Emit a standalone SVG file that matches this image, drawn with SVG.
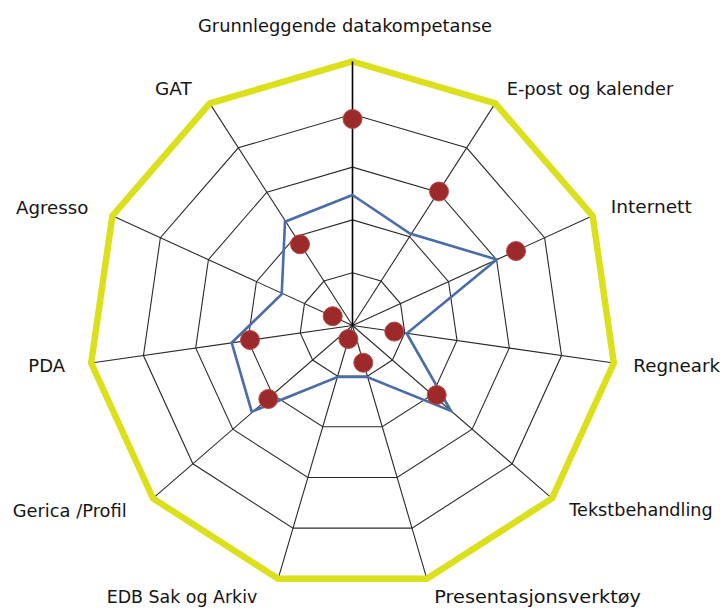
<svg xmlns="http://www.w3.org/2000/svg" width="726" height="610" viewBox="0 0 726 610">
<style>
  .lbl { font-family: "DejaVu Sans", "Liberation Sans", sans-serif; font-size: 17.5px; fill: #141414; }
  .ring { fill: none; stroke: #2a2a2a; stroke-width: 1.1; }
  .spoke { stroke: #2a2a2a; stroke-width: 1.1; }
  .outer { fill: none; stroke: #dce01c; stroke-width: 6.5; stroke-linejoin: miter; }
  .series { fill: none; stroke: #4a6ca8; stroke-width: 2.6; stroke-linejoin: miter; }
  .dot { fill: #9c2a2a; stroke: #b84a4a; stroke-width: 1; }
</style>
<rect width="726" height="610" fill="#ffffff"/>
<g id="grid" transform="translate(352.5 325.5)">
  <polygon class="ring" points="0,-52.8 28.55,-44.42 48.03,-21.93 52.26,7.51 39.9,34.58 14.88,50.66 -14.88,50.66 -39.9,34.58 -52.26,7.51 -48.03,-21.93 -28.55,-44.42"/>
  <polygon class="ring" points="0,-105.6 57.09,-88.84 96.06,-43.87 104.52,15.03 79.81,69.15 29.75,101.32 -29.75,101.32 -79.81,69.15 -104.52,15.03 -96.06,-43.87 -57.09,-88.84"/>
  <polygon class="ring" points="0,-158.4 85.64,-133.25 144.08,-65.8 156.79,22.54 119.71,103.73 44.63,151.99 -44.63,151.99 -119.71,103.73 -156.79,22.54 -144.08,-65.8 -85.64,-133.25"/>
  <polygon class="ring" points="0,-211.2 114.18,-177.67 192.11,-87.74 209.05,30.06 159.62,138.3 59.5,202.65 -59.5,202.65 -159.62,138.3 -209.05,30.06 -192.11,-87.74 -114.18,-177.67"/>
  <line class="spoke" x1="0" y1="0" x2="142.73" y2="-222.09"/>
  <line class="spoke" x1="0" y1="0" x2="240.14" y2="-109.67"/>
  <line class="spoke" x1="0" y1="0" x2="261.31" y2="37.57"/>
  <line class="spoke" x1="0" y1="0" x2="199.52" y2="172.88"/>
  <line class="spoke" x1="0" y1="0" x2="74.38" y2="253.31"/>
  <line class="spoke" x1="0" y1="0" x2="-74.38" y2="253.31"/>
  <line class="spoke" x1="0" y1="0" x2="-199.52" y2="172.88"/>
  <line class="spoke" x1="0" y1="0" x2="-261.31" y2="37.57"/>
  <line class="spoke" x1="0" y1="0" x2="-240.14" y2="-109.67"/>
  <line class="spoke" x1="0" y1="0" x2="-142.73" y2="-222.09"/>
  <polygon class="outer" points="0,-264 142.73,-222.09 240.14,-109.67 261.31,37.57 199.52,172.88 74.38,253.31 -74.38,253.31 -199.52,172.88 -261.31,37.57 -240.14,-109.67 -142.73,-222.09"/>
  <line x1="0" y1="0" x2="0" y2="-264" stroke="#000000" stroke-width="1.6"/>
</g>
<g id="connectors" transform="translate(352.5 325.5)">
  <polygon class="series" points="0,-130.5 57.5,-92 144.2,-66 54.2,8 98.5,85.5 14.8,51.5 -15,51.5 -100.8,86.2 -120.8,17.2 -70.8,-31.2 -67.5,-103.8"/>
</g>
<g id="points" transform="translate(352.5 325.5)">
  <circle class="dot" cx="0" cy="-206.5" r="9.5"/>
  <circle class="dot" cx="86.5" cy="-134" r="9.5"/>
  <circle class="dot" cx="163.5" cy="-74.5" r="9.5"/>
  <circle class="dot" cx="41.8" cy="6.1" r="9.5"/>
  <circle class="dot" cx="84.2" cy="69.5" r="9.5"/>
  <circle class="dot" cx="10.8" cy="37.2" r="9.5"/>
  <circle class="dot" cx="-4.1" cy="13.5" r="9.5"/>
  <circle class="dot" cx="-84.2" cy="73.5" r="9.5"/>
  <circle class="dot" cx="-102.5" cy="14.5" r="9.5"/>
  <circle class="dot" cx="-19.8" cy="-9.3" r="9.5"/>
  <circle class="dot" cx="-52.5" cy="-81.2" r="9.5"/>
</g>
<g id="label-grunnleggende"><text class="lbl" x="198" y="32" textLength="294" lengthAdjust="spacingAndGlyphs">Grunnleggende datakompetanse</text></g>
<g id="label-epost"><text class="lbl" x="506.7" y="95" textLength="166.6" lengthAdjust="spacingAndGlyphs">E-post og kalender</text></g>
<g id="label-internett"><text class="lbl" x="610.7" y="213" textLength="81" lengthAdjust="spacingAndGlyphs">Internett</text></g>
<g id="label-regneark"><text class="lbl" x="633.3" y="371.5" textLength="86.7" lengthAdjust="spacingAndGlyphs">Regneark</text></g>
<g id="label-tekstbehandling"><text class="lbl" x="569.3" y="516" textLength="143.4" lengthAdjust="spacingAndGlyphs">Tekstbehandling</text></g>
<g id="label-presentasjon"><text class="lbl" x="434.3" y="603" textLength="206.7" lengthAdjust="spacingAndGlyphs">Presentasjonsverktøy</text></g>
<g id="label-edb"><text class="lbl" x="106.7" y="603" textLength="150.6" lengthAdjust="spacingAndGlyphs">EDB Sak og Arkiv</text></g>
<g id="label-gerica"><text class="lbl" x="12.7" y="516.5" textLength="114" lengthAdjust="spacingAndGlyphs">Gerica /Profil</text></g>
<g id="label-pda"><text class="lbl" x="28.3" y="371.5" textLength="36.7" lengthAdjust="spacingAndGlyphs">PDA</text></g>
<g id="label-agresso"><text class="lbl" x="16" y="214" textLength="72.3" lengthAdjust="spacingAndGlyphs">Agresso</text></g>
<g id="label-gat"><text class="lbl" x="155" y="95" textLength="36.7" lengthAdjust="spacingAndGlyphs">GAT</text></g>
</svg>
